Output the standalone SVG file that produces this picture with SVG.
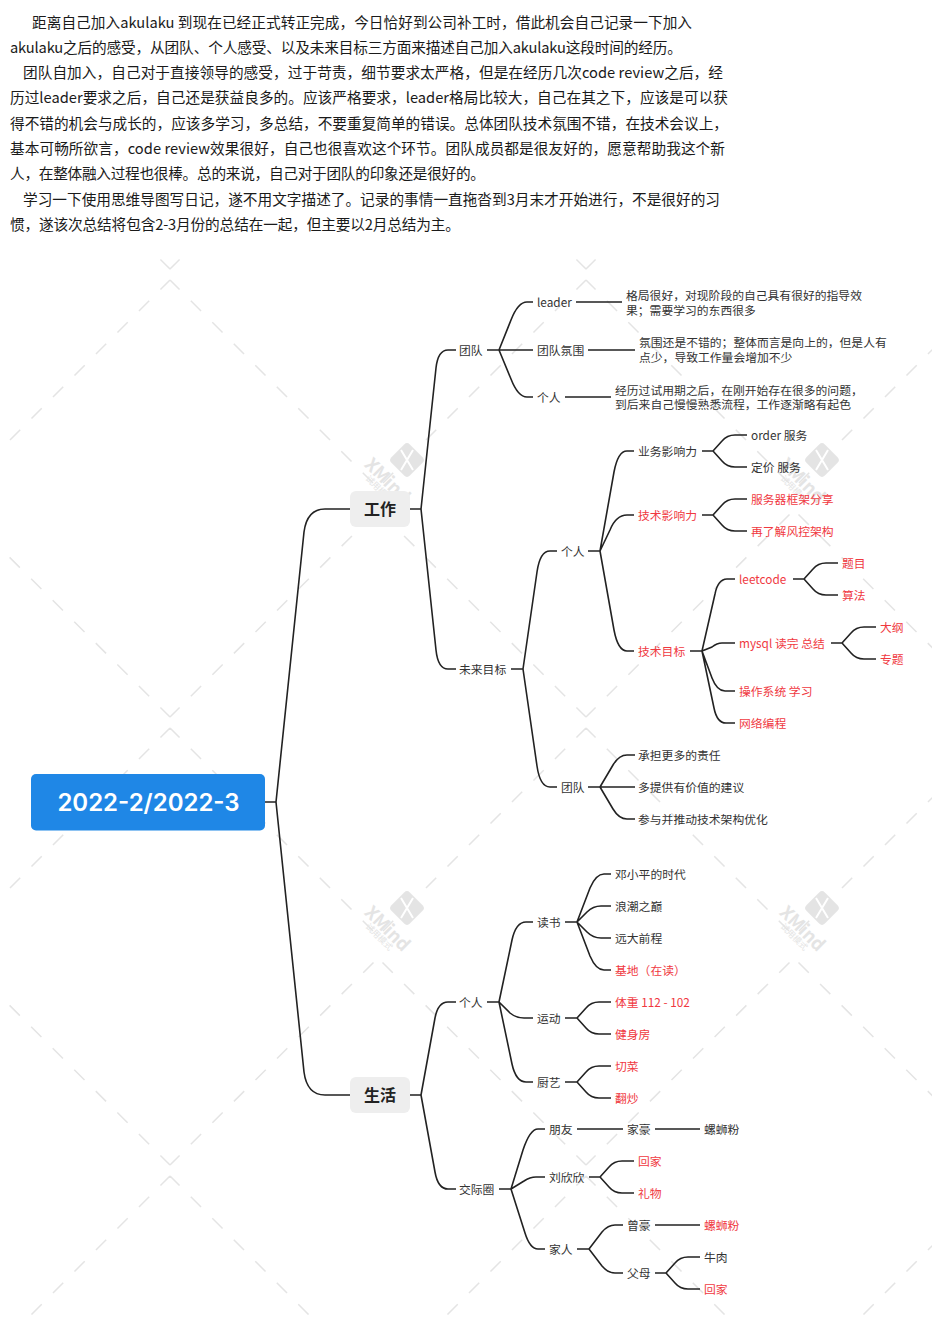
<svg xmlns="http://www.w3.org/2000/svg" width="932" height="1331" viewBox="0 0 932 1331">
<style>
text{font-family:"Noto Sans CJK SC","Noto Sans",sans-serif}
.p{font-size:14.67px;fill:#1a1a1a}
.t{font-size:11.8px;fill:#333}
.r{font-size:11.8px;fill:#f0393f}
.m{font-size:16px;font-weight:700;fill:#222;text-anchor:middle}
.e{fill:none;stroke:#222;stroke-width:1.6}
.w{fill:none;stroke:#e4e4e4;stroke-width:1.5;stroke-dasharray:14.5 15.9;stroke-dashoffset:1}
.wt{fill:#e4e4e4}
</style>
<defs>
<clipPath id="wc"><rect x="0" y="258" width="932" height="1057"/></clipPath>
<path id="wa" class="w" d="M170,280L-38,488M170,280L378,488M586,280L378,488M586,280L794,488M1002,280L794,488"/>
<path id="wb" class="w" d="M170,717L-38,510M170,717L378,510M586,717L378,510M586,717L794,510M1002,717L794,510"/>
<g id="logo">
<rect x="-13" y="-13" width="26" height="26" rx="4" transform="rotate(45)" fill="#e4e4e4"/>
<path d="M-6,-10L6,10M6,-10L-6,10" stroke="#fff" stroke-width="2" fill="none"/>
<text x="-24" y="25" transform="rotate(45 -24 25)" text-anchor="middle" font-size="18" font-weight="700" class="wt">XMind</text>
<text x="-30" y="31" transform="rotate(45 -30 31)" text-anchor="middle" font-size="8.5" class="wt">试用模式</text>
</g>
</defs>
<g id="intro">
<text class="p" x="32" y="28" textLength="660">距离自己加入akulaku 到现在已经正式转正完成，今日恰好到公司补工时，借此机会自己记录一下加入</text>
<text class="p" x="10" y="53" textLength="672">akulaku之后的感受，从团队、个人感受、以及未来目标三方面来描述自己加入akulaku这段时间的经历。</text>
<text class="p" x="23" y="78" textLength="700">团队自加入，自己对于直接领导的感受，过于苛责，细节要求太严格，但是在经历几次code review之后，经</text>
<text class="p" x="10" y="103" textLength="718">历过leader要求之后，自己还是获益良多的。应该严格要求，leader格局比较大，自己在其之下，应该是可以获</text>
<text class="p" x="10" y="129" textLength="718">得不错的机会与成长的，应该多学习，多总结，不要重复简单的错误。总体团队技术氛围不错，在技术会议上，</text>
<text class="p" x="10" y="154" textLength="715">基本可畅所欲言，code review效果很好，自己也很喜欢这个环节。团队成员都是很友好的，愿意帮助我这个新</text>
<text class="p" x="10" y="179" textLength="475">人，在整体融入过程也很棒。总的来说，自己对于团队的印象还是很好的。</text>
<text class="p" x="23" y="205" textLength="697">学习一下使用思维导图写日记，遂不用文字描述了。记录的事情一直拖沓到3月末才开始进行，不是很好的习</text>
<text class="p" x="10" y="230" textLength="450">惯，遂该次总结将包含2-3月份的总结在一起，但主要以2月总结为主。</text>
</g>
<g id="watermark">
<g clip-path="url(#wc)">
<use href="#wb" y="-448"/><use href="#wa"/><use href="#wb"/><use href="#wa" y="448"/><use href="#wb" y="448"/><use href="#wa" y="896"/>
</g>
<use href="#logo" x="407" y="460"/><use href="#logo" x="822" y="460"/><use href="#logo" x="407" y="908"/><use href="#logo" x="822" y="908"/>
</g>
<g id="connectors" class="e">
<path d="M265,802H276M276,802L304,532Q307,509 325,509L350,509M276,802L304,1072Q307,1095 325,1095L350,1095"/>
<path d="M410,509H421M421,509L436,368Q438,350 448,350L456,350M421,509L436,650Q438,669 448,669L456,669"/>
<path d="M487,350H499M499,350L511,320Q518,302 527,302L533,302M499,350H533M499,350L511,379Q518,397 527,397L533,397"/>
<path d="M576,302H622M588,350H635M565,397H611"/>
<path d="M511,669H523M523,669L537,572Q540,551 550,551L557,551M523,669L537,766Q540,787 550,787L557,787"/>
<path d="M588,551H600M600,551L614,472Q618,451 627,451L634,451M600,551L610,530Q616,515 627,515L634,515M600,551L614,630Q618,651 627,651L634,651"/>
<path d="M702,451H713M713,451L722,441Q727,435 735,435L747,435M713,451L722,461Q727,467 735,467L747,467"/>
<path d="M702,515H713M713,515L722,505Q727,499 735,499L747,499M713,515L722,525Q727,531 735,531L747,531"/>
<path d="M690,651H702M702,651L715,594Q718,579 727,579L735,579M702,651L712,647Q717,643 722,643L735,643M702,651L712,678Q717,691 725,691L735,691M702,651L714,708Q717,723 726,723L735,723"/>
<path d="M793,579H804M804,579L813,569Q818,563 826,563L838,563M804,579L813,589Q818,595 826,595L838,595"/>
<path d="M831,643H842M842,643L851,633Q856,627 864,627L876,627M842,643L851,653Q856,659 864,659L876,659"/>
<path d="M588,787H600M600,787L613,765Q619,755 627,755L635,755M600,787H635M600,787L613,809Q619,819 627,819L635,819"/>
<path d="M410,1095H421M421,1095L435,1018Q438,1002 448,1002L456,1002M421,1095L435,1172Q438,1189 448,1189L456,1189"/>
<path d="M487,1002H499M499,1002L512,940Q516,922 526,922L533,922M499,1002L510,1013Q516,1018 524,1018L533,1018M499,1002L512,1064Q516,1082 526,1082L533,1082"/>
<path d="M565,922H577M577,922L590,888Q596,874 604,874L611,874M577,922L587,912Q593,906 601,906L611,906M577,922L587,932Q593,938 601,938L611,938M577,922L590,956Q596,970 604,970L611,970"/>
<path d="M565,1018H577M577,1018L586,1008Q591,1002 599,1002L611,1002M577,1018L586,1028Q591,1034 599,1034L611,1034"/>
<path d="M565,1082H577M577,1082L586,1072Q591,1066 599,1066L611,1066M577,1082L586,1092Q591,1098 599,1098L611,1098"/>
<path d="M499,1189H511M511,1189L523,1150Q530,1129 538,1129L545,1129M511,1189L524,1181Q530,1177 536,1177L545,1177M511,1189L525,1233Q530,1249 538,1249L545,1249"/>
<path d="M577,1129H623M655,1129H700"/>
<path d="M589,1177H600M600,1177L609,1167Q614,1161 622,1161L634,1161M600,1177L609,1187Q614,1193 622,1193L634,1193"/>
<path d="M577,1249H589M589,1249L602,1232Q608,1225 615,1225L623,1225M589,1249L602,1266Q608,1273 615,1273L623,1273"/>
<path d="M655,1225H700"/>
<path d="M655,1273H666M666,1273L675,1263Q680,1257 688,1257L700,1257M666,1273L675,1283Q680,1289 688,1289L700,1289"/>
</g>
<g id="root"><rect x="31" y="774" width="234" height="56.500" rx="5" fill="#1f87e6"/><text x="148.500" y="811" text-anchor="middle" font-size="24" font-weight="600" fill="#fff" style="font-family:Inter,'Noto Sans',sans-serif">2022-2/2022-3</text></g>
<g id="work"><rect x="350" y="491" width="60" height="36" rx="6" fill="#eee"/><text class="m" x="380" y="514.500">工作</text></g>
<g id="life"><rect x="350" y="1077" width="60" height="36" rx="6" fill="#eee"/><text class="m" x="380" y="1100.500">生活</text></g>
<g id="n-team"><text class="t" x="459" y="355">团队</text></g>
<g id="n-leader"><text class="t" x="537" y="307">leader</text></g>
<g id="n-leader-d"><text class="t" x="626" y="300">格局很好，对现阶段的自己具有很好的指导效</text><text class="t" x="626" y="315">果；需要学习的东西很多</text></g>
<g id="n-atmos"><text class="t" x="537" y="355">团队氛围</text></g>
<g id="n-atmos-d"><text class="t" x="639" y="347">氛围还是不错的；整体而言是向上的，但是人有</text><text class="t" x="639" y="362">点少，导致工作量会增加不少</text></g>
<g id="n-person1"><text class="t" x="537" y="402">个人</text></g>
<g id="n-person1-d"><text class="t" x="615" y="394.500">经历过试用期之后，在刚开始存在很多的问题，</text><text class="t" x="615" y="409">到后来自己慢慢熟悉流程，工作逐渐略有起色</text></g>
<g id="n-goal"><text class="t" x="459" y="674">未来目标</text></g>
<g id="n-person2"><text class="t" x="561" y="556">个人</text></g>
<g id="n-biz"><text class="t" x="638" y="456">业务影响力</text></g>
<g id="n-order"><text class="t" x="751" y="440">order 服务</text></g>
<g id="n-price"><text class="t" x="751" y="472">定价 服务</text></g>
<g id="n-tech"><text class="r" x="638" y="520">技术影响力</text></g>
<g id="n-frame"><text class="r" x="751" y="504">服务器框架分享</text></g>
<g id="n-risk"><text class="r" x="751" y="536">再了解风控架构</text></g>
<g id="n-techgoal"><text class="r" x="638" y="656">技术目标</text></g>
<g id="n-leetcode"><text class="r" x="739" y="584">leetcode</text></g>
<g id="n-topic"><text class="r" x="842" y="568">题目</text></g>
<g id="n-algo"><text class="r" x="842" y="600">算法</text></g>
<g id="n-mysql"><text class="r" x="739" y="648">mysql 读完 总结</text></g>
<g id="n-outline"><text class="r" x="880" y="632">大纲</text></g>
<g id="n-special"><text class="r" x="880" y="664">专题</text></g>
<g id="n-os"><text class="r" x="739" y="696">操作系统 学习</text></g>
<g id="n-net"><text class="r" x="739" y="728">网络编程</text></g>
<g id="n-team2"><text class="t" x="561" y="792">团队</text></g>
<g id="n-duty"><text class="t" x="638" y="760">承担更多的责任</text></g>
<g id="n-advice"><text class="t" x="638" y="792">多提供有价值的建议</text></g>
<g id="n-arch"><text class="t" x="638" y="824">参与并推动技术架构优化</text></g>
<g id="n-person3"><text class="t" x="459" y="1007">个人</text></g>
<g id="n-read"><text class="t" x="537" y="927">读书</text></g>
<g id="n-b1"><text class="t" x="615" y="879">邓小平的时代</text></g>
<g id="n-b2"><text class="t" x="615" y="911">浪潮之巅</text></g>
<g id="n-b3"><text class="t" x="615" y="943">远大前程</text></g>
<g id="n-b4"><text class="r" x="615" y="975">基地（在读）</text></g>
<g id="n-sport"><text class="t" x="537" y="1023">运动</text></g>
<g id="n-weight"><text class="r" x="615" y="1007">体重 112 - 102</text></g>
<g id="n-gym"><text class="r" x="615" y="1039">健身房</text></g>
<g id="n-cook"><text class="t" x="537" y="1087">厨艺</text></g>
<g id="n-cut"><text class="r" x="615" y="1071">切菜</text></g>
<g id="n-fry"><text class="r" x="615" y="1103">翻炒</text></g>
<g id="n-social"><text class="t" x="459" y="1194">交际圈</text></g>
<g id="n-friend"><text class="t" x="549" y="1134">朋友</text></g>
<g id="n-jh"><text class="t" x="627" y="1134">家豪</text></g>
<g id="n-ls1"><text class="t" x="704" y="1134">螺蛳粉</text></g>
<g id="n-lxx"><text class="t" x="549" y="1182">刘欣欣</text></g>
<g id="n-home1"><text class="r" x="638" y="1166">回家</text></g>
<g id="n-gift"><text class="r" x="638" y="1198">礼物</text></g>
<g id="n-family"><text class="t" x="549" y="1254">家人</text></g>
<g id="n-zh"><text class="t" x="627" y="1230">曾豪</text></g>
<g id="n-ls2"><text class="r" x="704" y="1230">螺蛳粉</text></g>
<g id="n-parents"><text class="t" x="627" y="1278">父母</text></g>
<g id="n-beef"><text class="t" x="704" y="1262">牛肉</text></g>
<g id="n-home2"><text class="r" x="704" y="1294">回家</text></g>
</svg>
